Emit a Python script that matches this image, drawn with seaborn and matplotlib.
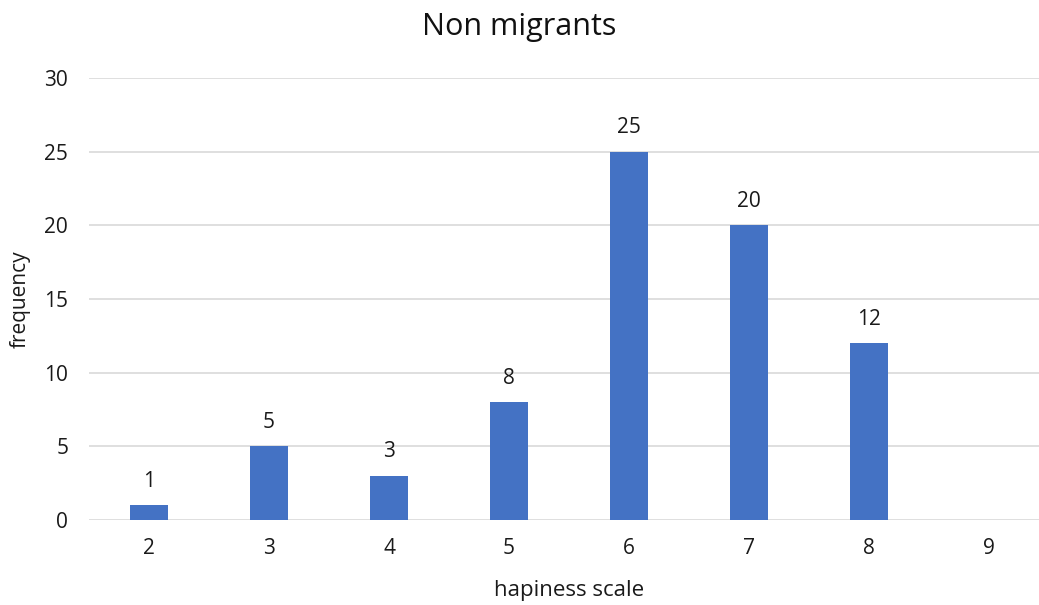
import matplotlib
matplotlib.use("Agg")
import matplotlib.pyplot as plt
import seaborn as sns
import pandas as pd

scale = ["2", "3", "4", "5", "6", "7", "8", "9"]
frequency = [1, 5, 3, 8, 25, 20, 12, 0]
yticks = [0, 5, 10, 15, 20, 25, 30]

df = pd.DataFrame({"scale": scale, "frequency": frequency})

sns.set_theme(style="white")
plt.rcParams["font.family"] = ["Open Sans", "DejaVu Sans"]

TXT = "#1a1a1a"

fig = plt.figure(figsize=(10.39, 6.05), dpi=100)
ax = fig.add_axes([0.0857, 0.1405, 0.924, 0.7305])

sns.barplot(data=df, x="scale", y="frequency", color="#4472C4",
            width=0.317, saturation=1, linewidth=0, edgecolor="none",
            ax=ax, zorder=3)

ax.set_ylim(0, 30)
ax.set_xlim(-0.5, 7.5)
ax.set_yticks(yticks)
ax.yaxis.grid(True, color="#D9D9D9", linewidth=1.2, zorder=0)
for s in ax.spines.values():
    s.set_visible(False)
ax.tick_params(axis="y", length=0, labelsize=15, colors=TXT, pad=15)
ax.tick_params(axis="x", length=0, labelsize=15, colors=TXT, pad=13)

for i, v in enumerate(frequency):
    if v > 0:
        ax.text(i, v + 1.25, str(v), ha="center", va="baseline",
                fontsize=15, color=TXT)

ax.set_xlabel("hapiness scale", fontsize=16, color=TXT, labelpad=15)
ax.set_ylabel("frequency", fontsize=15, color=TXT, labelpad=10)
fig.suptitle("Non migrants", fontsize=22, color="#111111", y=0.98)

fig.savefig("out.png", dpi=100)
